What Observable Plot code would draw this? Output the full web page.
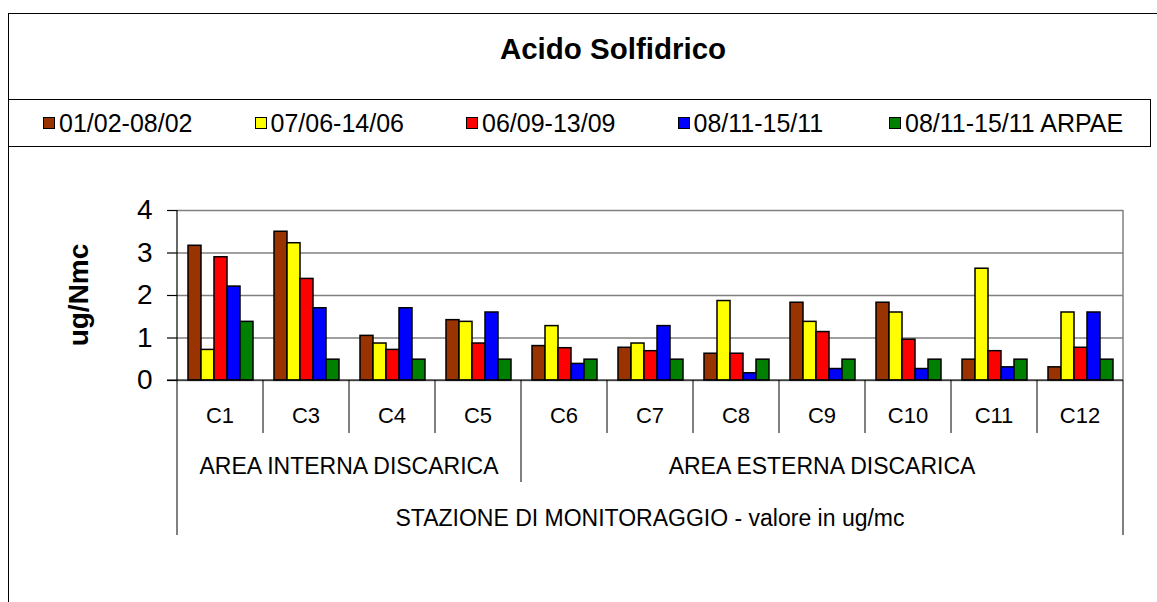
<!DOCTYPE html>
<html><head><meta charset="utf-8">
<script src="https://cdn.jsdelivr.net/npm/d3@7"></script>
<script src="https://cdn.jsdelivr.net/npm/@observablehq/plot@0.6"></script>
<style>
html,body{margin:0;padding:0;background:#fff;width:1157px;height:602px;overflow:hidden;font-family:"Liberation Sans",Arial,sans-serif;}
#frame{position:absolute;left:8px;top:13px;width:1300px;height:800px;border-left:1.5px solid #000;border-top:1.5px solid #000;}
#title{position:absolute;left:0;width:1226px;top:31px;text-align:center;font-weight:bold;font-size:29.5px;line-height:36px;color:#000;}
#legend{position:absolute;left:8px;top:99px;width:1143px;height:48px;border:1px solid #000;box-sizing:border-box;}
.item{position:absolute;top:0;height:46px;display:flex;align-items:center;font-size:25px;color:#000;white-space:nowrap;}
.sw{width:10px;height:10px;border:1px solid #000;margin-right:4px;flex:none;}
#chart{position:absolute;left:0;top:146px;}
</style></head>
<body>
<div id="frame"></div>
<div id="title"></div>
<div id="legend"></div>
<div id="chart"></div>
<script>
const chartTitle = "Acido Solfidrico";
const categories = ["C1","C3","C4","C5","C6","C7","C8","C9","C10","C11","C12"];
const series = ["01/02-08/02","07/06-14/06","06/09-13/09","08/11-15/11","08/11-15/11 ARPAE"];
const seriesColors = ["#993300","#FFFF00","#FF0000","#0000FF","#008000"];
const v0102 = [3.17,3.50,1.05,1.42,0.81,0.77,0.63,1.83,1.83,0.49,0.31];
const v0706 = [0.72,3.23,0.87,1.38,1.28,0.87,1.87,1.38,1.60,2.63,1.60];
const v0609 = [2.90,2.39,0.72,0.87,0.76,0.69,0.63,1.14,0.96,0.69,0.77];
const v0811 = [2.21,1.70,1.70,1.60,0.39,1.28,0.17,0.27,0.27,0.31,1.60];
const vArpae = [1.38,0.49,0.49,0.49,0.49,0.49,0.49,0.49,0.49,0.49,0.49];
const groupLabels = ["AREA INTERNA DISCARICA","AREA ESTERNA DISCARICA"];
const groupInterna = ["C1","C3","C4","C5"];
const groupEsterna = ["C6","C7","C8","C9","C10","C11","C12"];
const xTitle = "STAZIONE DI MONITORAGGIO - valore in ug/mc";
const yTitle = "ug/Nmc";
const yTicks = [0,1,2,3,4];

const seriesValues = [v0102, v0706, v0609, v0811, vArpae];
const groupMembers = [groupInterna, groupEsterna];
const data = [];
categories.forEach((c, i) => series.forEach((s, j) => data.push({cat: c, series: s, value: seriesValues[j][i]})));

document.getElementById("title").textContent = chartTitle;
const legend = document.getElementById("legend");
series.forEach((s, j) => {
  const it = document.createElement("div");
  it.className = "item";
  it.style.left = (34 + j * 211.5) + "px";
  const sw = document.createElement("div");
  sw.className = "sw";
  sw.style.background = seriesColors[j];
  const t = document.createElement("span");
  t.textContent = s;
  it.appendChild(sw); it.appendChild(t);
  legend.appendChild(it);
});

const font = '"Liberation Sans", Arial, sans-serif';
const plot = Plot.plot({
  width: 1157, height: 456,
  marginLeft: 173, marginRight: 31, marginTop: 64, marginBottom: 222,
  style: {fontFamily: font, fontSize: "28px", background: "transparent", color: "#000"},
  fx: {domain: categories, padding: 0, axis: null},
  x: {domain: series, paddingInner: 0, paddingOuter: 0.73, axis: null},
  y: {domain: [0, 4]},
  color: {domain: series, range: seriesColors},
  marks: [
    Plot.gridY(yTicks, {stroke: "#808080", strokeOpacity: 1, strokeWidth: 1.5}),
    Plot.barY(data, {fx: "cat", x: "series", y: "value", fill: "series", stroke: "#000", strokeWidth: 1.5}),
    Plot.axisY(yTicks, {tickSize: 10, tickPadding: 15, fontSize: 28, label: null, tickFormat: d => String(d), strokeWidth: 1.2})
  ]
});
document.getElementById("chart").appendChild(plot);

// hierarchical category axis drawn from the plot's own scales
const fx = plot.scale("fx"), y = plot.scale("y");
const bw = fx.bandwidth;
const left = fx.apply(categories[0]);
const right = fx.apply(categories[categories.length - 1]) + bw;
const y0 = y.apply(0), yTop = y.apply(4);
const svg = d3.select(plot);
const g = svg.append("g").attr("font-family", font).attr("fill", "#000");
const line = (x1, y1, x2, y2, stroke, w) => g.append("line")
  .attr("x1", x1).attr("y1", y1).attr("x2", x2).attr("y2", y2)
  .attr("stroke", stroke).attr("stroke-width", w);
line(right, yTop, right, y0, "#808080", 1.5);
line(left, yTop, left, y0, "#000", 1.2);
line(left - 10, y0, right, y0, "#000", 1.2);
const groupStarts = groupMembers.slice(1).map(m => m[0]);
categories.forEach((c, i) => {
  const x = fx.apply(c);
  if (i > 0) line(x, y0, x, y0 + (groupStarts.includes(c) ? 102 : 53), "#000", 1);
  g.append("text").attr("x", x + bw / 2).attr("y", y0 + 35)
    .attr("text-anchor", "middle").attr("dominant-baseline", "central")
    .attr("font-size", 22).text(c);
});
line(left, y0, left, y0 + 155, "#000", 1);
line(right, y0, right, y0 + 155, "#000", 1);
groupMembers.forEach((m, k) => {
  const a = fx.apply(m[0]), b = fx.apply(m[m.length - 1]) + bw;
  g.append("text").attr("x", (a + b) / 2).attr("y", y0 + 86)
    .attr("text-anchor", "middle").attr("dominant-baseline", "central")
    .attr("font-size", 23).text(groupLabels[k]);
});
g.append("text").attr("x", (left + right) / 2).attr("y", y0 + 138)
  .attr("text-anchor", "middle").attr("dominant-baseline", "central")
  .attr("font-size", 23).text(xTitle);
g.append("text").attr("transform", `translate(78,${y.apply(2)}) rotate(-90)`)
  .attr("text-anchor", "middle").attr("dominant-baseline", "central")
  .attr("font-size", 28).attr("font-weight", "bold").text(yTitle);
</script>
</body></html>
